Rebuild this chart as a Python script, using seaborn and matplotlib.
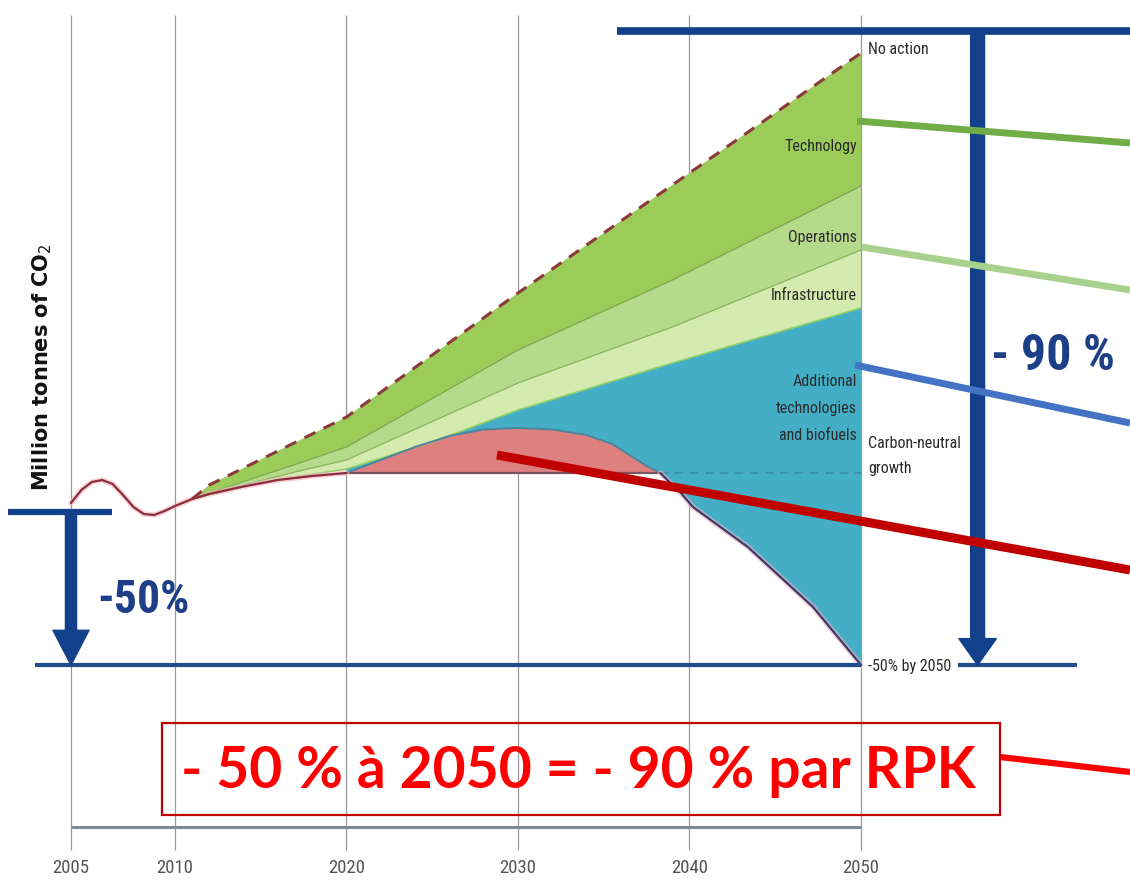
import numpy as np
import matplotlib
matplotlib.use('Agg')
import matplotlib.pyplot as plt
import seaborn as sns
from matplotlib.lines import Line2D
from matplotlib.patches import Rectangle, FancyArrowPatch, ArrowStyle

# ============================================================================
# DATA (million tonnes of CO2)
# ============================================================================
hist_years = [2005, 2005.5, 2006, 2006.5, 2007, 2007.5, 2008, 2008.5, 2009, 2009.5,
              2010, 2011, 2012, 2014, 2016, 2018, 2020]
hist_co2 = [648, 674, 690, 694, 686, 664, 640, 626, 624, 632,
            642, 656, 666, 681, 694, 702, 708]

no_action_years = [2011, 2012, 2020, 2030, 2040, 2050]
no_action_co2 = [656, 684, 820, 1068, 1308, 1548]

wedge_years = [2011, 2014, 2017, 2020, 2025, 2030, 2039, 2050]
technology_floor = [656, 691, 725, 760, 857, 954, 1094, 1282]
operations_floor = [656, 684, 710, 734, 811, 888, 1000, 1154]
infrastructure_floor = [656, 682, 700, 716, 770, 834, 928, 1038]

cng_gap_years = [2020, 2022, 2024, 2026, 2028, 2030, 2032, 2034, 2035.5, 2036.5, 2037.5, 2038.3]
cng_gap_co2 = [708, 734, 760, 782, 795, 798, 795, 784, 766, 744, 722, 708]

decline_years = [2038.3, 2039, 2039.5, 2040.2, 2043.4, 2047.2, 2050]
decline_co2 = [708, 684, 668, 640, 560, 440, 324]

tick_years = [2005, 2010, 2020, 2030, 2040, 2050]

level_2005 = hist_co2[0]
target_2050 = level_2005 * 0.5
cng_level = hist_co2[-1]

# ============================================================================
# STYLE
# ============================================================================
sns.set_style('white')
plt.rcParams['font.family'] = ['Roboto Condensed', 'DejaVu Sans']

W, H = 1130, 883
NAVY = '#12408a'
C_TECH, C_OPS, C_INFRA = '#9bcc5a', '#b6da8c', '#d4eaae'
C_BLUE, C_RED = '#43aec5', '#de7f80'
LABEL_KW = dict(fontsize=11.5, color='#2b2b2b')


def fx(px):
    return px / W


def fy(py):
    return 1 - py / H


# the original chart stretches 2005-2010 a little
def fwd(x):
    x = np.asarray(x, dtype=float)
    return np.where(x >= 2010, x, 2010 - (2010 - x) * 1.2128)


def inv(x):
    x = np.asarray(x, dtype=float)
    return np.where(x >= 2010, x, 2010 - (2010 - x) / 1.2128)


fig = plt.figure(figsize=(W / 100, H / 100), dpi=100)
ax = fig.add_axes([0, 0, 1, 1])
ax.set_xscale('function', functions=(fwd, inv))

# grid lines and bottom axis
ax.vlines(tick_years, -46, 1624, color='#9a9a9a', lw=0.9, zorder=0)
ax.hlines(0, 2005, 2050, color='#7d8b99', lw=2.2, zorder=1)
for yr in tick_years:
    ax.text(yr, -82, str(yr), ha='center', va='center', fontsize=13.5, color='#555555')

# wedges
ax.fill(no_action_years + wedge_years[::-1], no_action_co2 + technology_floor[::-1],
        color=C_TECH, lw=0, zorder=2)
ax.fill(wedge_years + wedge_years[::-1], technology_floor + operations_floor[::-1],
        color=C_OPS, lw=0, zorder=2)
ax.fill(wedge_years + wedge_years[::-1], operations_floor + infrastructure_floor[::-1],
        color=C_INFRA, lw=0, zorder=2)
blue_low_x = cng_gap_years + decline_years[1:]
blue_low_y = cng_gap_co2 + decline_co2[1:]
ax.fill(wedge_years[3:] + blue_low_x[::-1], infrastructure_floor[3:] + blue_low_y[::-1],
        color=C_BLUE, lw=0, zorder=2)
ax.fill_between(cng_gap_years, cng_level, cng_gap_co2, color=C_RED, lw=0, zorder=3)

ax.plot(wedge_years, technology_floor, color='#78a94a', lw=0.9, zorder=4)
ax.plot(wedge_years, operations_floor, color='#86b35a', lw=0.9, zorder=4)
ax.plot(wedge_years, infrastructure_floor, color='#8fd06a', lw=1.2, zorder=4)
ax.plot(cng_gap_years, cng_gap_co2, color='#4f8397', lw=1.4, zorder=4)
ax.hlines(cng_level, 2020, cng_gap_years[-1], color='#7a5560', lw=1.6, zorder=4)
ax.hlines(cng_level, cng_gap_years[-1], 2050, color='#3a8ea6', lw=1.2,
          linestyles=(0, (5, 4)), zorder=4)

# emission lines
ax.plot(hist_years, hist_co2, color='#f4b8c0', lw=4, alpha=0.6, zorder=4)
sns.lineplot(x=hist_years, y=hist_co2, ax=ax, color='#8b2d3c', lw=1.6, zorder=5)
ax.plot(decline_years, decline_co2, color='#f4b8c0', lw=4, alpha=0.6, zorder=4)
sns.lineplot(x=decline_years, y=decline_co2, ax=ax, color='#3d3b6b', lw=1.6, zorder=5)
sns.lineplot(x=no_action_years, y=no_action_co2, ax=ax, color='#8b3a3a', lw=2.2,
             linestyle=(0, (4, 3)), zorder=5)
ax.set_xlim(2001.587, 2065.685)
ax.set_ylim(-112, 1654)
ax.axis('off')

# -50 % / -90 % markers
ax.hlines(target_2050, 2003.27, 2050, color='#1f4d8f', lw=3, zorder=6)
ax.hlines(target_2050, 2055.66, 2062.6, color='#1f4d8f', lw=3, zorder=6)
ax.add_line(Line2D([fx(8), fx(112)], [fy(512), fy(512)], transform=ax.transAxes,
                   color=NAVY, lw=4.5, solid_capstyle='butt', zorder=6))
ax.add_line(Line2D([fx(617), fx(1130)], [fy(31), fy(31)], transform=ax.transAxes,
                   color=NAVY, lw=5.5, solid_capstyle='butt', zorder=6))
ax.add_patch(FancyArrowPatch((2005, level_2005 - 18), (2005, target_2050),
                             arrowstyle=ArrowStyle.Simple(head_length=1.25, head_width=1.3, tail_width=0.4),
                             mutation_scale=20, color=NAVY, shrinkA=0, shrinkB=0, zorder=6))
ax.add_patch(FancyArrowPatch((2056.8, 1592), (2056.8, target_2050),
                             arrowstyle=ArrowStyle.Simple(head_length=0.95, head_width=1.35, tail_width=0.5),
                             mutation_scale=20, color=NAVY, shrinkA=0, shrinkB=0, zorder=6))
ax.text(fx(143), fy(600), '-50%', transform=ax.transAxes, ha='center', va='center',
        fontsize=33, fontweight='bold', color='#1d3f88')
ax.text(fx(1053), fy(357), '- 90 %', transform=ax.transAxes, ha='center', va='center',
        fontsize=36, fontweight='bold', color='#1d3f88')

# wedge labels
ax.text(fx(868), fy(50), 'No action', transform=ax.transAxes, ha='left', va='center', **LABEL_KW)
ax.text(fx(857), fy(147), 'Technology', transform=ax.transAxes, ha='right', va='center', **LABEL_KW)
ax.text(fx(857), fy(238), 'Operations', transform=ax.transAxes, ha='right', va='center', **LABEL_KW)
ax.text(fx(857), fy(296), 'Infrastructure', transform=ax.transAxes, ha='right', va='center', **LABEL_KW)
ax.text(fx(857), fy(409), 'Additional\ntechnologies\nand biofuels', transform=ax.transAxes,
        ha='right', va='center', multialignment='right', linespacing=2.0, **LABEL_KW)
ax.text(fx(868), fy(456), 'Carbon-neutral\ngrowth', transform=ax.transAxes,
        ha='left', va='center', linespacing=1.8, **LABEL_KW)
ax.text(fx(868), fy(667), '-50% by 2050', transform=ax.transAxes, ha='left', va='center', **LABEL_KW)
ax.text(fx(42), fy(367), 'Million tonnes of CO$_2$', transform=ax.transAxes, rotation=90,
        ha='center', va='center', fontsize=15, fontweight='bold', color='#111111',
        family='DejaVu Sans')

# pointer lines
pointers = [((857, 121), (1130, 143), '#70ad47', 5),
            ((862, 247), (1130, 290), '#a9d18e', 5),
            ((855, 365), (1130, 423), '#4472c4', 5),
            ((497, 455), (1130, 570), '#c00000', 6.5),
            ((1000, 757), (1130, 772), '#ff0000', 4.5)]
for (x0, y0), (x1, y1), col, lw in pointers:
    ax.add_line(Line2D([fx(x0), fx(x1)], [fy(y0), fy(y1)], transform=ax.transAxes,
                       color=col, lw=lw, solid_capstyle='butt', zorder=8))

# summary box
ax.add_patch(Rectangle((fx(162), fy(815)), fx(1000) - fx(162), fy(723) - fy(815),
                       transform=ax.transAxes, fill=False, edgecolor='#c00000', lw=1.6, zorder=8))
ax.text(fx(578), fy(771), '- 50 % à 2050 = - 90 % par RPK', transform=ax.transAxes,
        ha='center', va='center', fontsize=41, fontweight='bold', color='#ff0000',
        family=['Lato', 'DejaVu Sans'], zorder=9)

fig.savefig('out.png', dpi=100, facecolor='white')
